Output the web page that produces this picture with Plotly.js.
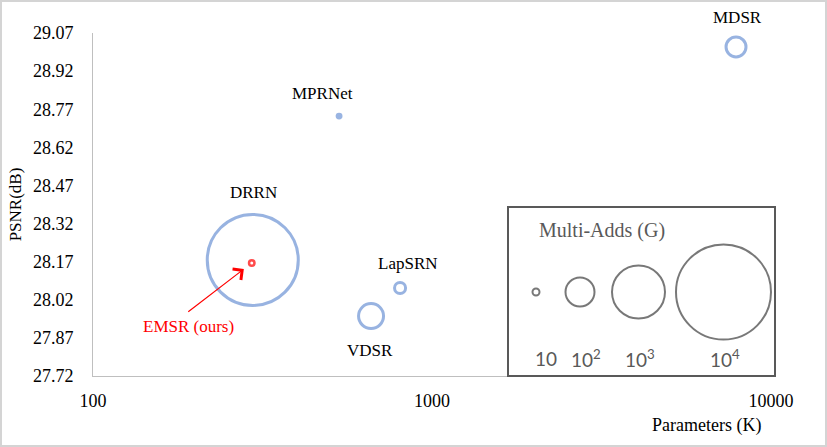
<!DOCTYPE html>
<html>
<head>
<meta charset="utf-8">
<script src="https://cdn.plot.ly/plotly-3.0.1.min.js"></script>
<style>
  html, body { margin: 0; padding: 0; background: #fff; }
  #wrap { position: relative; width: 827px; height: 447px; }
  #chart { width: 827px; height: 447px; }
  #frame { position: absolute; left: 0; top: 0; width: 827px; height: 447px; box-sizing: border-box;
           border: 2px solid #d4d4d4; pointer-events: none; }
</style>
</head>
<body>
<div id="wrap"><div id="chart"></div><div id="frame"></div></div>
<script>
// ---- data ----
const models     = ['MDSR', 'MPRNet', 'DRRN', 'LapSRN', 'VDSR', 'EMSR (ours)'];
const paramsK    = [7885, 532, 296, 805, 661, 294];
const psnr       = [29.015, 28.743, 28.177, 28.066, 27.956, 28.165];
const multiAddsG = [43, 8, 8490, 17, 73, 9];

const yTickVals  = [27.72, 27.87, 28.02, 28.17, 28.32, 28.47, 28.62, 28.77, 28.92, 29.07];
const xTickVals  = [100, 1000, 10000];

const legendValues = [10, 100, 1000, 10000];
const legendLabels = ['10', '10<sup>2</sup>', '10<sup>3</sup>', '10<sup>4</sup>'];

// ---- styling / scale ----
const legendDiam = [9, 31, 55, 97];           // bubble diameter (px) for legendValues
function diameterFor(v) {
  const lv = legendValues.map(Math.log10), d = legendDiam, x = Math.log10(v);
  let i = 0;
  if (x > lv[lv.length - 1]) i = lv.length - 2;
  else { while (i < lv.length - 2 && x > lv[i + 1]) i++; }
  return d[i] + (x - lv[i]) / (lv[i + 1] - lv[i]) * (d[i + 1] - d[i]);
}
const BLUE = '#6d94d5', RED = '#ff0000', SERIF = 'Liberation Serif, Times New Roman, serif';
const styleByModel = {
  'MDSR':        {fill: 'rgba(0,0,0,0)', line: BLUE, lw: 3, dx: 1,   dy: 29},
  'MPRNet':      {fill: BLUE,            line: BLUE, lw: 0, dx: -17, dy: 23},
  'DRRN':        {fill: 'rgba(0,0,0,0)', line: BLUE, lw: 3, dx: 1,   dy: 67},
  'LapSRN':      {fill: 'rgba(0,0,0,0)', line: BLUE, lw: 3, dx: 8,   dy: 25},
  'VDSR':        {fill: 'rgba(0,0,0,0)', line: BLUE, lw: 3, dx: -1,  dy: -34},
  'EMSR (ours)': {fill: 'rgba(0,0,0,0)', line: RED,  lw: 2.5, dx: -63, dy: -64, color: RED}
};
const st = models.map(m => styleByModel[m]);

const mainTrace = {
  type: 'scatter', mode: 'markers', x: paramsK, y: psnr, text: models,
  hoverinfo: 'text', cliponaxis: false, showlegend: false,
  marker: {
    symbol: 'circle',
    size: multiAddsG.map((v, i) => Math.max(diameterFor(v) - st[i].lw, 2)),
    color: st.map(s => s.fill),
    line: {color: st.map(s => s.line), width: st.map(s => s.lw)}
  }
};

// legend key (hidden pixel-like axes spanning the plot area)
const PW = 678, PH = 343, L = 93, B = 376;
const legendTrace = {
  type: 'scatter', mode: 'markers', xaxis: 'x2', yaxis: 'y2',
  x: [536 - L, 580 - L, 638.5 - L, 723.5 - L], y: [B - 292, B - 292, B - 292, B - 292],
  cliponaxis: false, showlegend: false, hoverinfo: 'skip',
  marker: {symbol: 'circle', size: legendValues.map(v => diameterFor(v) - 2),
           color: 'rgba(0,0,0,0)', line: {color: '#404040', width: 2}}
};

const annotations = models.map((m, i) => ({
  x: Math.log10(paramsK[i]), y: psnr[i], xref: 'x', yref: 'y',
  xanchor: 'center', yanchor: 'middle',
  text: m, showarrow: false, xshift: st[i].dx, yshift: st[i].dy,
  font: {family: SERIF, size: 17, color: st[i].color || '#000'}
}));
// arrow to EMSR
const iE = models.indexOf('EMSR (ours)');
annotations.push({
  x: Math.log10(paramsK[iE]), y: psnr[iE], xref: 'x', yref: 'y', text: '',
  showarrow: true, ax: -65, ay: 50, standoff: 10, arrowcolor: RED,
  arrowwidth: 1.2, arrowhead: 4, arrowsize: 2.2
});
// x-axis title, placed at the right as in the reference
annotations.push({
  xref: 'paper', yref: 'paper', x: (706 - L) / PW, y: (B - 425) / PH,
  xanchor: 'center', yanchor: 'middle', text: 'Parameters (K)', showarrow: false,
  font: {family: SERIF, size: 18, color: '#000'}
});
// legend texts
annotations.push({
  xref: 'paper', yref: 'paper', x: (602 - L) / PW, y: (B - 230) / PH, text: 'Multi-Adds (G)',
  xanchor: 'center', yanchor: 'middle',
  showarrow: false, font: {family: SERIF, size: 20, color: '#595959'}
});
const legLabelX = [546, 586, 640, 725];
legendLabels.forEach((t, i) => annotations.push({
  xref: 'paper', yref: 'paper', x: (legLabelX[i] - L) / PW, y: (B - 358) / PH, text: t,
  xanchor: 'center', yanchor: 'middle',
  showarrow: false, font: {family: 'Lato, sans-serif', size: 19, color: '#595959'}
}));

const layout = {
  width: 827, height: 447,
  margin: {l: L, r: 827 - L - PW, t: 33, b: 447 - B},
  paper_bgcolor: '#fff', plot_bgcolor: '#fff',
  showlegend: false,
  xaxis: {
    type: 'log', range: [Math.log10(100), Math.log10(10000)],
    tickvals: xTickVals, tickformat: 'd', ticks: '', ticklabelstandoff: 8,
    showgrid: false, zeroline: false, showline: true, linecolor: '#bfbfbf', linewidth: 1,
    tickfont: {family: SERIF, size: 18, color: '#000'}
  },
  yaxis: {
    range: [27.72, 29.07], tickvals: yTickVals, tickformat: '.2f', ticks: '', ticklabelstandoff: 15,
    showgrid: false, zeroline: false, showline: true, linecolor: '#bfbfbf', linewidth: 1,
    tickfont: {family: SERIF, size: 18, color: '#000'},
    title: {text: 'PSNR(dB)', font: {family: SERIF, size: 17, color: '#000'}, standoff: 6}
  },
  xaxis2: {overlaying: 'x', anchor: 'y2', range: [0, PW], visible: false, fixedrange: true},
  yaxis2: {overlaying: 'y', anchor: 'x2', range: [0, PH], visible: false, fixedrange: true},
  shapes: [{
    type: 'rect', xref: 'paper', yref: 'paper',
    x0: (508 - L) / PW, x1: (775 - L) / PW, y0: (B - 376) / PH, y1: (B - 207) / PH,
    line: {color: '#595959', width: 2}, fillcolor: 'rgba(0,0,0,0)'
  }],
  annotations: annotations
};

Plotly.newPlot('chart', [mainTrace, legendTrace], layout, {displayModeBar: false, staticPlot: true});
</script>
</body>
</html>
